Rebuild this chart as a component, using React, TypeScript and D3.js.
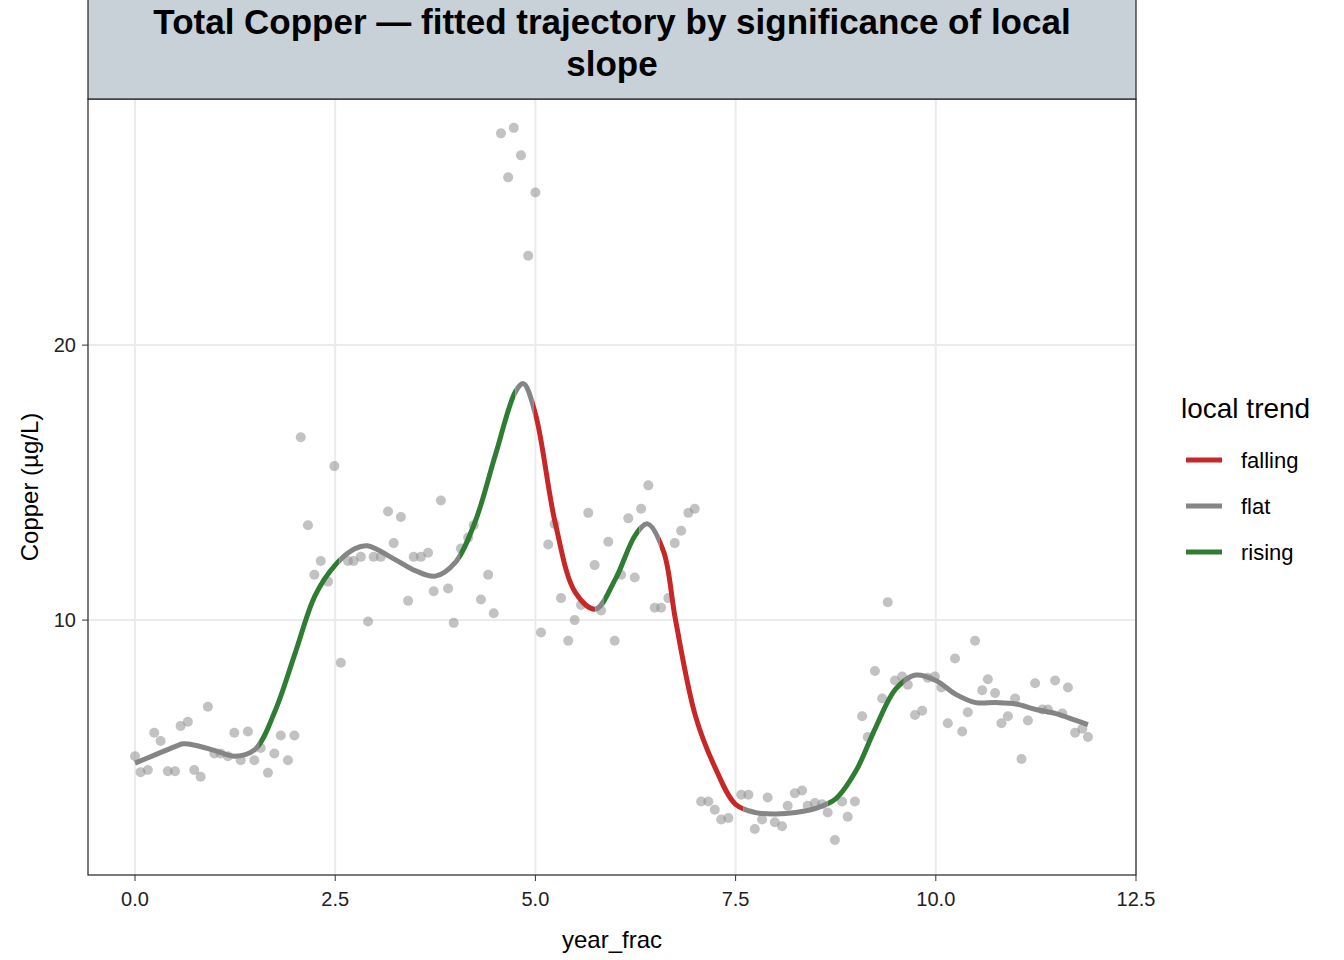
import * as d3 from "d3"

const obsX = [0,0.07,0.16,0.24,0.32,0.41,0.5,0.57,0.66,0.74,0.82,0.91,0.99,1.07,1.16,1.24,1.32,1.41,1.49,1.57,1.66,1.74,1.82,1.91,1.99,2.07,2.16,2.24,2.32,2.41,2.49,2.57,2.66,2.73,2.82,2.91,2.98,3.07,3.16,3.23,3.32,3.41,3.48,3.57,3.66,3.73,3.82,3.91,3.98,4.07,4.16,4.23,4.32,4.41,4.48,4.57,4.66,4.73,4.82,4.91,5.0,5.07,5.16,5.24,5.32,5.41,5.49,5.57,5.66,5.74,5.82,5.91,5.99,6.07,6.16,6.24,6.32,6.41,6.49,6.57,6.66,6.74,6.82,6.91,6.99,7.07,7.16,7.24,7.32,7.41,7.57,7.66,7.74,7.83,7.9,7.99,8.08,8.15,8.24,8.33,8.4,8.49,8.58,8.65,8.74,8.83,8.9,8.99,9.08,9.15,9.24,9.33,9.4,9.49,9.58,9.65,9.74,9.83,9.9,9.99,10.07,10.15,10.24,10.33,10.4,10.49,10.58,10.65,10.74,10.82,10.9,10.99,11.07,11.15,11.24,11.33,11.4,11.49,11.58,11.65,11.74,11.83,11.9]
const obsY = [5.05,4.47,4.55,5.9,5.6,4.5,4.5,6.15,6.3,4.55,4.3,6.85,5.15,5.15,5.05,5.9,4.9,5.95,4.9,5.35,4.45,5.15,5.8,4.9,5.8,16.65,13.45,11.65,12.15,11.4,15.6,8.45,12.15,12.15,12.3,9.95,12.3,12.3,13.95,12.8,13.75,10.7,12.3,12.3,12.45,11.05,14.35,11.15,9.9,12.6,13,13.45,10.75,11.65,10.25,27.7,26.1,27.9,26.9,23.25,25.55,9.55,12.75,13.5,10.8,9.25,10,10.55,13.9,12,10.35,12.85,9.25,11.65,13.7,11.55,14.05,14.9,10.45,10.45,10.8,12.8,13.25,13.9,14.05,3.4,3.4,3.1,2.75,2.8,3.65,3.65,2.4,2.75,3.55,2.65,2.5,3.25,3.7,3.8,3.25,3.35,3.3,3.0,2.0,3.4,2.85,3.4,6.5,5.75,8.15,7.15,10.65,7.8,7.95,7.65,6.55,6.7,7.9,7.95,7.55,6.25,8.6,5.95,6.65,9.25,7.45,7.85,7.35,6.25,6.5,7.15,4.95,6.35,7.7,6.75,6.75,7.8,6.6,7.55,5.9,6.05,5.75]

const fitX = [0,0.25,0.5,0.6,0.75,1,1.25,1.5,1.75,2,2.25,2.5,2.75,2.9,3.25,3.5,3.75,4,4.25,4.5,4.75,4.85,5,5.25,5.5,5.75,6,6.25,6.4,6.6,6.75,7,7.25,7.5,7.75,8,8.25,8.5,8.75,9,9.25,9.5,9.75,10,10.25,10.5,10.75,11,11.25,11.5,11.75,11.9]
const fitY = [4.8,5.1,5.4,5.5,5.45,5.25,5.05,5.3,6.7,8.8,10.9,12.0,12.6,12.7,12.2,11.8,11.6,12.1,13.6,16.0,18.3,18.6,17.5,13.5,11.0,10.4,11.5,13.1,13.5,12.5,10,6.5,4.6,3.3,3.0,2.95,3.0,3.15,3.5,4.5,6.1,7.5,8.0,7.8,7.3,7.0,7.0,6.95,6.75,6.6,6.35,6.2]

const segStart = [-1,1.55,2.55,4.05,4.75,4.98,5.75,5.85,6.3,6.55,7.6,8.65,9.6]
const segEnd = [1.55,2.55,4.05,4.75,4.98,5.75,5.85,6.3,6.55,7.6,8.65,9.6,13]
const segTrend = ["flat","rising","flat","rising","flat","falling","flat","rising","flat","falling","flat","rising","flat"]

const trends = ["falling", "flat", "rising"]
const trendColors = ["#c62828", "#858585", "#2e7d32"]
const xTicks = [0, 2.5, 5, 7.5, 10, 12.5]
const yTicks = [10, 20]

export default function App() {
  const left = 88, right = 1136, top = 99, bottom = 875
  const x = d3.scaleLinear().domain([-0.587, 12.5]).range([left, right])
  const y = d3.scaleLinear().domain([0.73, 28.95]).range([bottom, top])
  const color = d3.scaleOrdinal<string, string>().domain(trends).range(trendColors)
  const line = d3.line<number>().x((_, i) => x(fitX[i])).y((d) => y(d)).curve(d3.curveCatmullRom)
  const path = line(fitY) || ""
  const font = "Liberation Sans, Arial, sans-serif"
  return (
    <svg width={1344} height={960} style={{ position: "absolute", left: 0, top: 0 }} fontFamily={font}>
      <rect width={1344} height={960} fill="white" />
      <defs>
        {segStart.map((s, i) => (
          <clipPath id={`seg${i}`} key={i}>
            <rect x={x(Math.max(s, -0.587))} y={top} width={x(Math.min(segEnd[i], 12.5)) - x(Math.max(s, -0.587))} height={bottom - top} />
          </clipPath>
        ))}
      </defs>
      {xTicks.map((t) => <line key={t} x1={x(t)} x2={x(t)} y1={top} y2={bottom} stroke="#ebebeb" strokeWidth={2} />)}
      {yTicks.map((t) => <line key={t} x1={left} x2={right} y1={y(t)} y2={y(t)} stroke="#ebebeb" strokeWidth={2} />)}
      {obsX.map((v, i) => <circle key={i} cx={x(v)} cy={y(obsY[i])} r={5} fill="#8f8f8f" fillOpacity={0.55} />)}
      {segStart.map((_, i) => (
        <path key={i} d={path} fill="none" stroke={color(segTrend[i])} strokeWidth={5} clipPath={`url(#seg${i})`} />
      ))}
      <rect x={left} y={top} width={right - left} height={bottom - top} fill="none" stroke="#222" strokeWidth={1.2} />
      <rect x={left} y={-2} width={right - left} height={top + 2} fill="#c8d0d8" stroke="#222" strokeWidth={1.2} />
      <text x={(left + right) / 2} y={34} textAnchor="middle" fontSize={35} fontWeight="bold">Total Copper — fitted trajectory by significance of local</text>
      <text x={(left + right) / 2} y={76} textAnchor="middle" fontSize={35} fontWeight="bold">slope</text>
      {xTicks.map((t) => (
        <g key={t}>
          <line x1={x(t)} x2={x(t)} y1={bottom} y2={bottom + 6} stroke="#333" />
          <text x={x(t)} y={bottom + 31} textAnchor="middle" fontSize={20} fill="#222">{t.toFixed(1)}</text>
        </g>
      ))}
      {yTicks.map((t) => (
        <g key={t}>
          <line x1={left - 6} x2={left} y1={y(t)} y2={y(t)} stroke="#333" />
          <text x={left - 12} y={y(t) + 7} textAnchor="end" fontSize={20} fill="#222">{t}</text>
        </g>
      ))}
      <text x={(left + right) / 2} y={948} textAnchor="middle" fontSize={24}>year_frac</text>
      <text transform={`translate(38,${(top + bottom) / 2}) rotate(-90)`} textAnchor="middle" fontSize={24}>Copper (µg/L)</text>
      <text x={1181} y={418} fontSize={28}>local trend</text>
      {trends.map((t, i) => (
        <g key={t}>
          <line x1={1186} x2={1222} y1={460 + i * 46} y2={460 + i * 46} stroke={color(t)} strokeWidth={5} />
          <text x={1241} y={468 + i * 46} fontSize={22}>{t}</text>
        </g>
      ))}
    </svg>
  )
}
